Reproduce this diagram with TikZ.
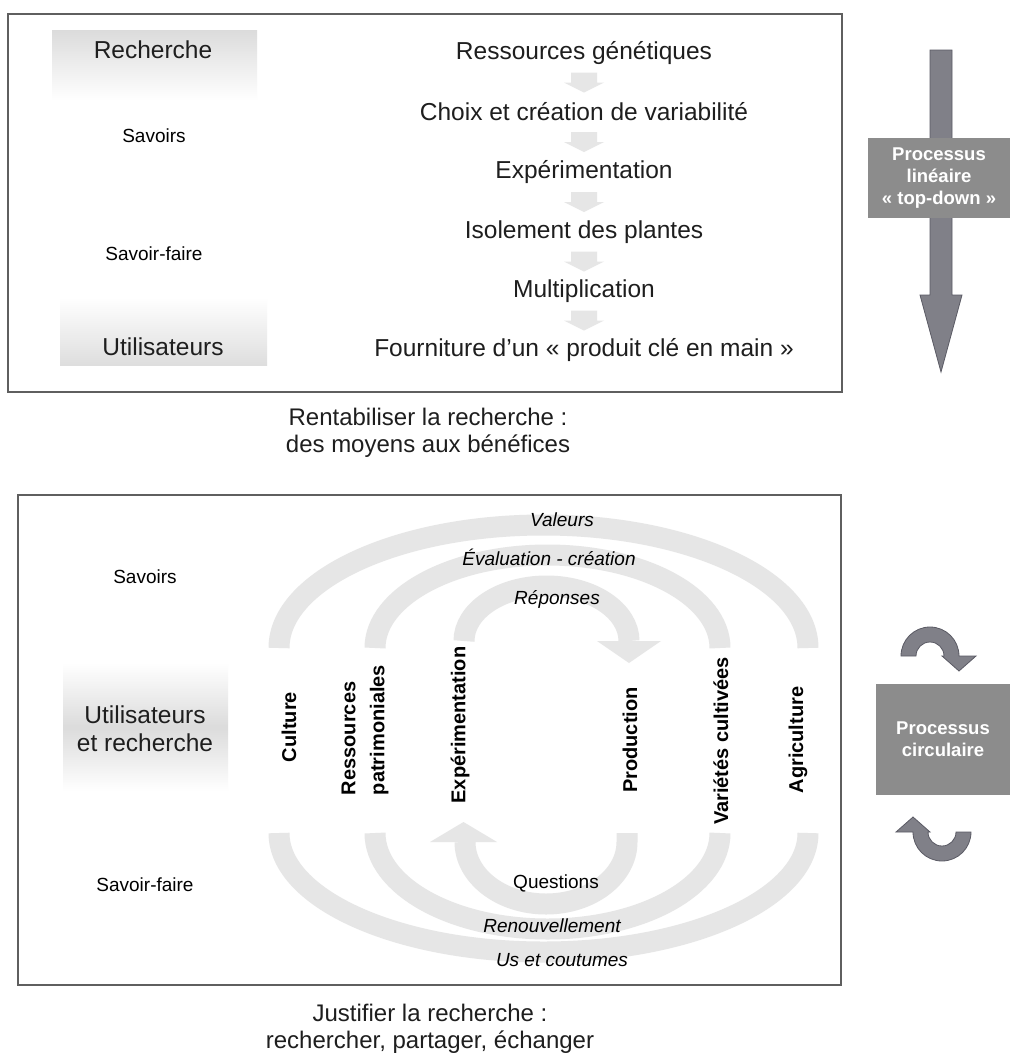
\documentclass[tikz,border=0pt]{standalone}
\usepackage{fontspec}
\setmainfont{Liberation Sans}
\usetikzlibrary{calc}
\definecolor{arcgray}{RGB}{230,230,230}
\definecolor{minigray}{RGB}{230,230,230}
\definecolor{boxgray}{RGB}{140,140,140}
\definecolor{arrgray}{RGB}{128,128,136}
\definecolor{arredge}{RGB}{90,90,100}
\definecolor{framecol}{RGB}{95,95,95}
\definecolor{txt}{RGB}{30,30,30}
\tikzset{
  cyclearrow/.pic={
    \filldraw[fill=arrgray,draw=arredge,line width=0.8pt]
      (-29,0) arc[start angle=180,end angle=360,radius=29]
      -- (46,0) -- (29,15) -- (12,0) -- (14,0)
      arc[start angle=360,end angle=180,radius=14] -- cycle;
  },
  miniarrow/.pic={
    \fill[minigray] (-13,-10) -- (13,-10) -- (13,0) -- (20,0) -- (0,10)
      -- (-20,0) -- (-13,0) -- cycle;
  }
}
\begin{document}
\begin{tikzpicture}[x=1pt,y=-1pt,
  frame/.style={draw=framecol,line width=1.2pt},
  big/.style={font=\fontsize{24.5}{28}\selectfont,text=txt,inner sep=0pt},
  captext/.style={font=\fontsize{24}{27}\selectfont,text=txt,inner sep=0pt,align=center},
  small/.style={font=\fontsize{19}{23}\selectfont,inner sep=0pt},
  ital/.style={font=\fontsize{19}{23}\selectfont\itshape,inner sep=0pt},
  vert/.style={font=\fontsize{20}{29}\selectfont\bfseries,rotate=90,inner sep=0pt,align=left},
  band/.style={draw=arcgray,line width=21pt},
  proc/.style={fill=boxgray,font=\fontsize{18.5}{22}\selectfont\bfseries,text=white,align=center,inner sep=0pt},
]
\useasboundingbox (0,0) rectangle (1011,1058);
\fill[white] (0,0) rectangle (1011,1058);

% ---------- top panel ----------
\draw[frame] (8,14) rectangle (842,392);
\shade[top color=black!14,bottom color=white] (52,30) rectangle (257,100);
\shade[top color=white,bottom color=black!13] (60,297) rectangle (267,365);
\node[big] (rech) at (153,50) {Recherche};
\node[small] (sav1) at (154,136) {Savoirs};
\node[small] (sf1) at (154,254) {Savoir-faire};
\node[big] (util) at (163,347) {Utilisateurs};

\node[big] (r1) at (584,53) {Ressources génétiques};
\node[big] (r2) at (584,112) {Choix et création de variabilité};
\node[big] (r3) at (584,172) {Expérimentation};
\node[big] (r4) at (584,232) {Isolement des plantes};
\node[big] (r5) at (584,291) {Multiplication};
\node[big] (r6) at (584,350) {Fourniture d'un « produit clé en main »};
\path ($(r1)!0.5!(r2)$) pic {miniarrow};
\path ($(r2)!0.5!(r3)$) pic {miniarrow};
\path ($(r3)!0.5!(r4)$) pic {miniarrow};
\path ($(r4)!0.5!(r5)$) pic {miniarrow};
\path ($(r5)!0.5!(r6)$) pic {miniarrow};

\node[captext] (cap1) at (428,433) {Rentabiliser la recherche :\\des moyens aux bénéfices};

% linear process arrow
\filldraw[fill=arrgray,draw=arredge,line width=0.8pt]
  (930,50) -- (952,50) -- (952,295) -- (962,295) -- (941,372) -- (920,295) -- (930,295) -- cycle;
\node[proc,minimum width=142pt,minimum height=80pt] (lin) at (939,178) {Processus\\linéaire\\« top-down »};

% ---------- bottom panel ----------
\draw[frame] (18,495) rectangle (841,985);
\shade[top color=white,bottom color=white,middle color=black!14] (63,663) rectangle (228,791);

% arcs (top halves)
\draw[band] (279,648) arc[start angle=180,end angle=360,x radius=264.5,y radius=123];
\draw[band] (375,648) arc[start angle=180,end angle=360,x radius=172.5,y radius=93];
\draw[band] (464,641) arc[start angle=180,end angle=360,x radius=82.5,y radius=55];
\fill[arcgray] (597,641) -- (661,641) -- (629,663) -- cycle;
% arcs (bottom halves)
\draw[band] (279,833) arc[start angle=180,end angle=0,x radius=264.5,y radius=119];
\draw[band] (375,833) arc[start angle=180,end angle=0,x radius=172.5,y radius=96];
\draw[band] (627,833) -- (627,842) arc[start angle=0,end angle=180,x radius=81,y radius=62];
\fill[arcgray] (430,842) -- (497,842) -- (463.5,822) -- cycle;

\node[small] (sav2) at (145,577) {Savoirs};
\node[big,align=center] (ur) at (145,729) {Utilisateurs\\et recherche};
\node[small] (sf2) at (145,885) {Savoir-faire};

\node[ital] (val) at (562,520) {Valeurs};
\node[ital] (eval) at (549,557) {Évaluation - création};
\node[ital] (rep) at (557,599) {Réponses};
\node[small] (quest) at (556,883) {Questions};
\node[ital] (renouv) at (552,926) {Renouvellement};
\node[ital] (us) at (562,960) {Us et coutumes};

\node[vert] (cult) at (289,727) {Culture};
\node[vert] (ressp) at (365,730) {Ressources\\patrimoniales};
\node[vert] (exper) at (460,725) {Expérimentation};
\node[vert] (prod) at (630,740) {Production};
\node[vert] (vari) at (721,741) {Variétés cultivées};
\node[vert] (agri) at (798,740) {Agriculture};

\node[captext] (cap2) at (430,1029) {Justifier la recherche :\\rechercher, partager, échanger};

% circular process
\pic at (930,656) {cyclearrow};
\node[proc,minimum width=134pt,minimum height=111pt] (circ) at (943,739.5) {Processus\\circulaire};
\pic[rotate=180] at (942,832) {cyclearrow};
\end{tikzpicture}
\end{document}
